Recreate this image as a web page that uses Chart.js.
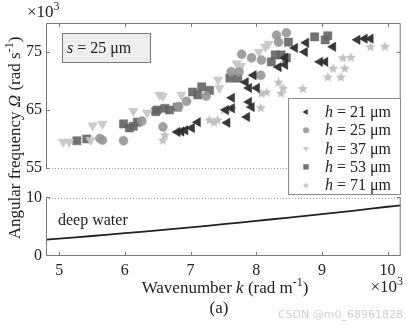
<!DOCTYPE html>
<html>
<head>
<meta charset="utf-8">
<script src="https://cdn.jsdelivr.net/npm/chart.js@4.4.0/dist/chart.umd.min.js"></script>
<style>
  html, body { margin: 0; padding: 0; background: #fff; }
</style>
</head>
<body>
<canvas id="chart" width="407" height="326"></canvas>
<script>
// wavenumber k (x10^3 rad/m) and angular frequency (x10^3 rad/s) per ridge height
const k21 = [6.80, 6.86, 6.92, 7.02, 7.11, 7.56, 7.86, 7.54, 7.63, 7.63, 7.84, 7.89, 7.93, 7.96, 8.01, 7.89, 8.34, 8.44, 8.44, 8.59, 8.74, 8.76, 8.97, 9.05, 9.17, 9.54, 9.65, 9.74];
const w21 = [61.2, 61.3, 61.5, 61.9, 62.9, 62.8, 63.8, 65.0, 67.1, 65.3, 69.8, 68.8, 65.5, 71.0, 68.8, 66.4, 72.4, 72.8, 74.0, 75.7, 75.0, 76.6, 73.3, 73.3, 75.9, 77.1, 77.3, 77.3];

const k25 = [5.62, 5.66, 5.98, 6.26, 6.58, 6.82, 6.94, 7.24, 7.62, 7.74, 7.78, 7.93, 8.08, 8.07, 8.31, 8.34, 8.46];
const w25 = [60.1, 59.8, 59.7, 63.1, 62.1, 65.6, 66.5, 67.4, 71.6, 71.6, 74.6, 74.0, 73.6, 71.0, 77.9, 76.7, 78.3];

const k37 = [5.06, 5.15, 5.48, 5.51, 5.66, 6.13, 6.34, 6.53, 6.58, 6.86, 7.42, 7.44, 7.70, 7.77, 8.04, 8.14, 8.19];
const w37 = [59.5, 59.5, 59.8, 62.3, 62.6, 64.8, 64.5, 67.6, 67.4, 67.6, 70.2, 68.8, 73.0, 72.6, 75.0, 75.9, 76.4];

const k53 = [5.27, 5.42, 5.98, 6.07, 6.13, 6.19, 6.47, 6.49, 6.61, 6.68, 6.80, 7.03, 7.11, 7.17, 7.29, 7.60, 7.72, 8.23, 8.29, 8.38, 8.46, 8.49, 8.89, 9.05, 9.09];
const w53 = [59.7, 60.0, 62.6, 61.9, 62.2, 62.9, 64.7, 65.0, 65.3, 65.0, 65.5, 68.1, 67.6, 69.0, 68.4, 70.5, 70.5, 73.3, 74.5, 74.5, 74.0, 76.7, 77.6, 77.1, 77.8];

const k71 = [6.58, 6.61, 7.29, 7.36, 7.41, 7.51, 7.63, 8.07, 8.08, 8.16, 8.34, 8.38, 8.41, 8.71, 9.09, 9.29, 9.17, 9.35, 9.32, 9.44, 9.74, 9.96];
const w71 = [59.8, 60.7, 63.3, 62.9, 63.3, 65.0, 65.3, 65.4, 67.9, 68.1, 69.8, 67.9, 68.8, 68.7, 70.7, 70.7, 72.2, 72.2, 74.0, 74.1, 75.9, 76.0];

// deep water dispersion curve
const kDeep = [4.8, 5.0, 5.5, 6.0, 6.5, 7.0, 7.5, 8.0, 8.5, 9.0, 9.5, 10.0, 10.2];
const wDeep = [2.83, 3.01, 3.45, 3.93, 4.42, 4.94, 5.48, 6.05, 6.62, 7.21, 7.82, 8.49, 8.74];

const seriesNames = ['21', '25', '37', '53', '71'];
const xTicks = [5, 6, 7, 8, 9, 10];
const upperTicks = [55, 65, 75];
const lowerTicks = [0, 10];

const SERIF = '"Liberation Serif", "Times New Roman", serif';
const INK = '#222';
const FRAME = '#7a7a7a';
const GAP = 30;            // px between the two panels
const PX_PER_UNIT = 5.8;   // both panels share the same vertical scale

function starImage(r, color) {
  const c = document.createElement('canvas');
  c.width = c.height = Math.ceil(r * 2 + 2);
  const g = c.getContext('2d');
  const m = c.width / 2;
  g.beginPath();
  for (let i = 0; i < 10; i++) {
    const a = -Math.PI / 2 + i * Math.PI / 5;
    const rr = i % 2 ? r * 0.45 : r;
    g.lineTo(m + rr * Math.cos(a), m + rr * Math.sin(a) + r * 0.08);
  }
  g.closePath();
  g.fillStyle = color;
  g.fill();
  return c;
}

const styles = [
  { color: 'rgba(45,45,45,0.95)', pointStyle: 'triangle', rotation: -90, radius: 5.4, lr: 3.4 },
  { color: 'rgba(150,150,150,0.9)', pointStyle: 'circle', rotation: 0, radius: 4.5, lr: 3 },
  { color: 'rgba(200,200,200,0.95)', pointStyle: 'triangle', rotation: 180, radius: 5.6, lr: 3.4 },
  { color: 'rgba(100,100,100,0.9)', pointStyle: 'rect', rotation: 0, radius: 5.8, lr: 3.8 },
  { color: 'rgba(190,190,190,0.95)', pointStyle: starImage(5.4, 'rgba(190,190,190,0.95)'), rotation: 0, radius: 5, lr: 3,
    legendStyle: starImage(3.4, 'rgba(190,190,190,0.95)') }
];

const xs = [k21, k25, k37, k53, k71];
const ys = [w21, w25, w37, w53, w71];

const datasets = seriesNames.map((n, s) => ({
  type: 'scatter',
  label: 'h = ' + n + ' μm',
  data: xs[s].map((k, i) => ({ x: k, y: ys[s][i] })),
  yAxisID: 'yTop',
  pointStyle: styles[s].pointStyle,
  rotation: styles[s].rotation,
  pointRadius: styles[s].radius,
  backgroundColor: styles[s].color,
  borderColor: styles[s].color,
  borderWidth: 0.5
}));

datasets.push({
  type: 'line',
  label: 'deep water',
  data: kDeep.map((k, i) => ({ x: k, y: wDeep[i] })),
  yAxisID: 'yLow',
  borderColor: INK,
  borderWidth: 1.8,
  pointRadius: 0,
  tension: 0.4,
  fill: false
});

function fontFor(r, size) {
  const s = r.sup ? Math.round(size * 0.68) : size;
  return (r.it ? 'italic ' : '') + s + 'px ' + SERIF;
}

// text made of plain / italic / superscript pieces
function drawRuns(ctx, runs, x, y, size, align) {
  ctx.textBaseline = 'alphabetic';
  ctx.textAlign = 'left';
  let total = 0;
  const ws = runs.map(r => {
    ctx.font = fontFor(r, size);
    const w = ctx.measureText(r.t).width;
    total += w;
    return w;
  });
  let cx = align === 'center' ? x - total / 2 : align === 'right' ? x - total : x;
  runs.forEach((r, i) => {
    ctx.font = fontFor(r, size);
    ctx.fillText(r.t, cx, r.sup ? y - size * 0.42 : y);
    cx += ws[i];
  });
}

const decorations = {
  id: 'decorations',
  afterDraw(chart) {
    const ctx = chart.ctx;
    const ca = chart.chartArea;
    const x = chart.scales.x;
    const yt = chart.scales.yTop;
    const yl = chart.scales.yLow;
    const top = yt.getPixelForValue(80);
    const y55 = yt.getPixelForValue(55);
    const y10 = yl.getPixelForValue(10);
    const y0 = yl.getPixelForValue(0);
    const L = ca.left, R = ca.right;

    ctx.save();
    ctx.strokeStyle = FRAME;
    ctx.lineWidth = 1;

    // solid frame pieces
    ctx.beginPath();
    ctx.moveTo(L + 0.5, y55); ctx.lineTo(L + 0.5, top + 0.5); ctx.lineTo(R - 0.5, top + 0.5); ctx.lineTo(R - 0.5, y55);
    ctx.moveTo(L + 0.5, y10); ctx.lineTo(L + 0.5, y0 - 0.5); ctx.lineTo(R - 0.5, y0 - 0.5); ctx.lineTo(R - 0.5, y10);
    ctx.stroke();

    // ticks pointing inward
    ctx.beginPath();
    xTicks.forEach(v => {
      const px = Math.round(x.getPixelForValue(v)) + 0.5;
      ctx.moveTo(px, y0); ctx.lineTo(px, y0 - 4);
      ctx.moveTo(px, top); ctx.lineTo(px, top + 4);
    });
    upperTicks.forEach(v => {
      const py = Math.round(yt.getPixelForValue(v)) + 0.5;
      ctx.moveTo(L, py); ctx.lineTo(L + 4, py);
      ctx.moveTo(R, py); ctx.lineTo(R - 4, py);
    });
    lowerTicks.forEach(v => {
      const py = Math.round(yl.getPixelForValue(v)) - 0.5;
      ctx.moveTo(L, py); ctx.lineTo(L + 4, py);
      ctx.moveTo(R, py); ctx.lineTo(R - 4, py);
    });
    ctx.stroke();

    // dotted break lines
    ctx.strokeStyle = '#9a9a9a';
    ctx.setLineDash([1, 2]);
    ctx.beginPath();
    ctx.moveTo(L, Math.round(y55) + 0.5); ctx.lineTo(R, Math.round(y55) + 0.5);
    ctx.moveTo(L, Math.round(y10) + 0.5); ctx.lineTo(R, Math.round(y10) + 0.5);
    ctx.stroke();
    ctx.setLineDash([]);

    // parameter box
    ctx.fillStyle = '#eeeeee';
    ctx.fillRect(62, 33, 88, 29);
    ctx.strokeStyle = FRAME;
    ctx.strokeRect(62.5, 33.5, 88, 29);
    ctx.fillStyle = INK;
    drawRuns(ctx, [{ t: 's', it: true }, { t: ' = 25 μm' }], 67, 53, 16, 'left');

    // legend
    ctx.fillStyle = '#fff';
    ctx.fillRect(288, 98, 112, 96);
    ctx.strokeStyle = '#8a8a8a';
    ctx.strokeRect(288.5, 98.5, 112, 96);
    seriesNames.forEach((n, s) => {
      const ry = 112 + s * 18.3;
      const st = styles[s];
      ctx.fillStyle = st.color;
      ctx.strokeStyle = st.color;
      Chart.helpers.drawPoint(ctx, {
        pointStyle: st.legendStyle || st.pointStyle,
        rotation: st.rotation,
        radius: st.lr,
        borderWidth: 0
      }, 306, ry);
      ctx.fillStyle = INK;
      drawRuns(ctx, [{ t: 'h', it: true }, { t: ' = ' + n + ' μm' }], 325, ry + 5, 16, 'left');
    });

    // curve label
    ctx.fillStyle = INK;
    drawRuns(ctx, [{ t: 'deep water' }], 58, 225, 16, 'left');

    // exponent markers
    drawRuns(ctx, [{ t: '×10' }, { t: '3', sup: true }], 27, 17, 17, 'left');
    drawRuns(ctx, [{ t: '×10' }, { t: '3', sup: true }], 403, 292, 17, 'right');

    // axis titles
    drawRuns(ctx, [{ t: 'Wavenumber ' }, { t: 'k', it: true }, { t: ' (rad m' }, { t: '-1', sup: true }, { t: ')' }], 225, 293, 17, 'center');
    drawRuns(ctx, [{ t: '(a)' }], 219, 313, 17, 'center');
    ctx.save();
    ctx.translate(20, 138);
    ctx.rotate(-Math.PI / 2);
    drawRuns(ctx, [{ t: 'Angular frequency ' }, { t: 'Ω', it: true }, { t: ' (rad s' }, { t: '-1', sup: true }, { t: ')' }], 0, 0, 17, 'center');
    ctx.restore();

    ctx.fillStyle = '#cfcfcf';
    ctx.font = '11px "DejaVu Sans", sans-serif';
    ctx.textAlign = 'right';
    ctx.fillText('CSDN @m0_68961828', 403, 318);
    ctx.restore();
  }
};

const tickFont = { family: SERIF, size: 16 };
const setTicks = list => scale => { scale.ticks = list.map(v => ({ value: v })); };
const noGrid = { display: false, drawTicks: false };

new Chart(document.getElementById('chart'), {
  type: 'scatter',
  data: { datasets },
  options: {
    responsive: false,
    animation: false,
    layout: { padding: { top: 23, right: 3, left: 0, bottom: 0 } },
    plugins: { legend: { display: false }, tooltip: { enabled: false } },
    scales: {
      x: {
        type: 'linear',
        min: 4.8,
        max: 10.2,
        afterBuildTicks: setTicks(xTicks),
        afterFit: s => { s.height = 70; },
        grid: noGrid,
        border: { display: false },
        ticks: { font: tickFont, color: INK, padding: 5 }
      },
      // stacked panels: first listed sits at the bottom
      yLow: {
        type: 'linear',
        position: 'left',
        stack: 'panels',
        stackWeight: 10 * PX_PER_UNIT + GAP,
        min: 0,
        max: 10 + GAP / PX_PER_UNIT,
        afterBuildTicks: setTicks(lowerTicks),
        afterFit: s => { s.width = 46; },
        grid: noGrid,
        border: { display: false },
        ticks: { font: tickFont, color: INK, padding: 4 }
      },
      yTop: {
        type: 'linear',
        position: 'left',
        stack: 'panels',
        stackWeight: 25 * PX_PER_UNIT,
        min: 55,
        max: 80,
        afterBuildTicks: setTicks(upperTicks),
        afterFit: s => { s.width = 46; },
        grid: noGrid,
        border: { display: false },
        ticks: { font: tickFont, color: INK, padding: 4 }
      }
    }
  },
  plugins: [decorations]
});
</script>
</body>
</html>
